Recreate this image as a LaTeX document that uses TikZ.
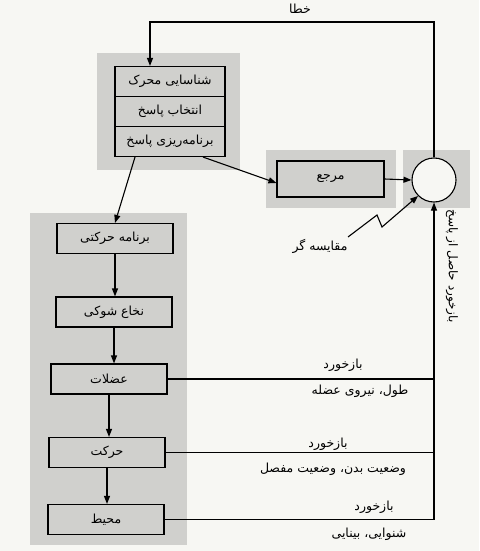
\documentclass[tikz,border=0pt]{standalone}
\usepackage{fontspec}
\usetikzlibrary{arrows.meta,calc}
\TeXXeTstate=1
\newfontfamily\fafont[Script=Arabic]{DejaVu Sans}
\newcommand\fatext[1]{{\fafont\beginR #1\endR}}
\definecolor{paper}{RGB}{247,247,243}
\definecolor{boxgray}{RGB}{208,208,205}
\tikzset{
  every picture/.style={x=1pt,y=-1pt},
  lbl/.style={font=\fontsize{12.5}{14}\selectfont, inner sep=1pt},
  blk/.style={draw, line width=1.1pt, fill=boxgray, minimum width=116pt, minimum height=30pt, inner sep=0pt, font=\fontsize{12.5}{14}\selectfont},
  row/.style={draw, line width=1.1pt, fill=boxgray, minimum width=110pt, minimum height=30pt, inner sep=0pt, font=\fontsize{12.5}{14}\selectfont},
  conn/.style={line width=1.1pt},
  arr/.style={conn, -{Triangle[length=8pt,width=6pt]}}
}
\begin{document}
\begin{tikzpicture}
\useasboundingbox (0,0) rectangle (479,551);
\fill[paper] (0,0) rectangle (479,551);
% gray backgrounds
\fill[boxgray] (97,53) rectangle (240,170);
\fill[boxgray] (266,150) rectangle (396,208);
\fill[boxgray] (403,150) rectangle (470,208);
\fill[boxgray] (30,213) rectangle (187,545);
% top stack
\node[row] (s1) at (170,81.5) {\fatext{شناسایی محرک}};
\node[row] (s2) at (170,111.5) {\fatext{انتخاب پاسخ}};
\node[row] (s3) at (170,141.5) {\fatext{برنامه‌ریزی پاسخ}};
% reference and comparator
\node[draw, line width=1.1pt, fill=boxgray, minimum width=107pt, minimum height=36pt, inner sep=0pt, font=\fontsize{12.5}{14}\selectfont] (ref) at (330.5,179) {\fatext{مرجع}};
\node[draw, circle, line width=1.1pt, fill=paper, minimum size=44pt, inner sep=0pt] (c) at (434,180) {};
\node[lbl] (cmp) at (320,246) {\fatext{مقایسه گر}};
% bottom stack
\node[blk] (b1) at (115,238.5) {\fatext{برنامه حرکتی}};
\node[blk] (b2) at (114,312) {\fatext{نخاع شوکی}};
\node[blk] (b3) at (109,379) {\fatext{عضلات}};
\node[blk] (b4) at (107,452.5) {\fatext{حرکت}};
\node[blk] (b5) at (106,519.5) {\fatext{محیط}};
% labels
\node[lbl] (err) at (300,9) {\fatext{خطا}};
\node[lbl, rotate=-90, font=\fontsize{12}{14}\selectfont] (fbr) at (452,266) {\fatext{بازخورد حاصل از پاسخ}};
\node[lbl] (f1a) at (343,365) {\fatext{بازخورد}};
\node[lbl] (f1b) at (360,391) {\fatext{طول، نیروی عضله}};
\node[lbl] (f2a) at (328,444) {\fatext{بازخورد}};
\node[lbl] (f2b) at (333,469) {\fatext{وضعیت بدن، وضعیت مفصل}};
\node[lbl] (f3a) at (374,507) {\fatext{بازخورد}};
\node[lbl] (f3b) at (369,534) {\fatext{شنوایی، بینایی}};
% coordinates
\coordinate (tl) at (150,22);
\coordinate (tr) at (c.north |- tl);
\coordinate (z1) at (348,237);
\coordinate (z2) at (377,215);
\coordinate (z3) at (382,227);
% connectors
\draw[arr] (c.north) -- (tr) -- (tl) -- (tl |- s1.north);
\draw[arr] ($(s3.south)+(-35,0)$) -- (b1.north);
\draw[arr] ($(s3.south)+(33,0)$) -- ($(ref.west)+(0,4)$);
\draw[arr] (ref.east) -- (c.west);
\draw[arr] (z1) -- (z2) -- (z3) -- (c.225);
\draw[arr] (b1.south) -- (b1.south |- b2.north);
\draw[arr] (b2.south) -- (b2.south |- b3.north);
\draw[arr] (b3.south) -- (b3.south |- b4.north);
\draw[arr] (b4.south) -- (b4.south |- b5.north);
\draw[conn] (b3.east) -- (b3.east -| c.south);
\draw[conn] (b4.east) -- (b4.east -| c.south);
\draw[arr] (b5.east) -- (b5.east -| c.south) -- (c.south);
\end{tikzpicture}
\end{document}
